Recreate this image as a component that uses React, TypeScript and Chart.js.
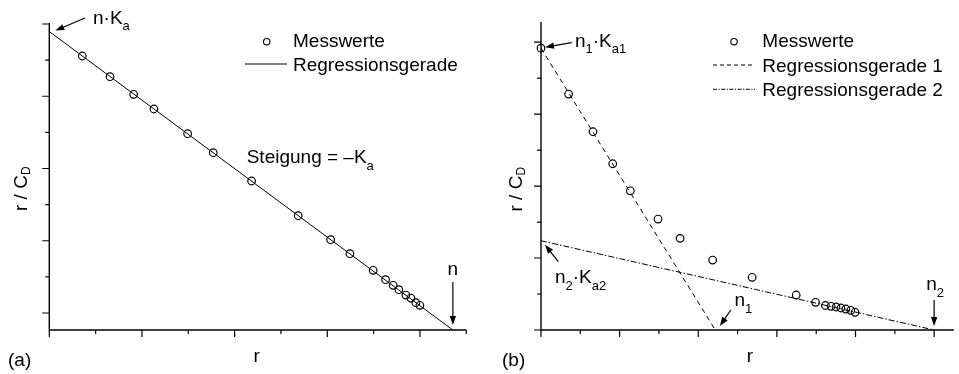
import React, { useEffect, useRef } from "react";
import { Chart, registerables } from "chart.js";
Chart.register(...registerables);

// ---------- Panel (a) data ----------
const rValuesA = [0.356, 0.655, 0.91, 1.129, 1.493, 1.769, 2.183, 2.686, 3.036, 3.244, 3.495, 3.629, 3.711, 3.772, 3.848, 3.902, 3.956, 3.999];
const rcdValuesA = [7.114, 6.541, 6.054, 5.647, 4.963, 4.437, 3.654, 2.693, 2.029, 1.642, 1.182, 0.922, 0.767, 0.645, 0.498, 0.415, 0.285, 0.213];
const regLineAX = [0, 4.355];
const regLineAY = [7.79, -0.47];
const xMajorA = [0, 1, 2, 3, 4];
const xMinorA = [0.5, 1.5, 2.5, 3.5, 4.5];
const yMajorA = [0, 2, 4, 6, 8];
const yMinorA = [1, 3, 5, 7];

// ---------- Panel (b) data ----------
const rValuesB = [0, 0.351, 0.661, 0.912, 1.136, 1.489, 1.769, 2.183, 2.685, 3.246, 3.492, 3.617, 3.689, 3.752, 3.814, 3.877, 3.94, 3.994];
const rcdValuesB = [7.83, 6.556, 5.508, 4.619, 3.867, 3.083, 2.547, 1.944, 1.464, 0.972, 0.769, 0.681, 0.658, 0.639, 0.611, 0.583, 0.547, 0.492];
const reg1BX = [0, 2.217];
const reg1BY = [7.83, 0];
const reg2BX = [0, 5];
const reg2BY = [2.48, 0];
const xMajorB = [0, 1, 2, 3, 4, 5];
const xMinorB = [0.5, 1.5, 2.5, 3.5, 4.5];
const yMajorB = [0, 2, 4, 6, 8];
const yMinorB = [1, 3, 5, 7];

const FONT = '"Liberation Sans", Arial, Helvetica, sans-serif';

const pts = (xs: number[], ys: number[]) => xs.map((x, i) => ({ x, y: ys[i] }));

type Part = [string, boolean];
function drawRich(ctx: CanvasRenderingContext2D, x: number, y: number, parts: Part[], size = 19, subSize = 13, subOff = 6.5) {
  let cx = x;
  ctx.textBaseline = "alphabetic";
  ctx.textAlign = "left";
  for (const [t, sub] of parts) {
    ctx.font = `${sub ? subSize : size}px ${FONT}`;
    ctx.fillText(t, cx, sub ? y + subOff : y);
    cx += ctx.measureText(t).width;
  }
  return cx - x;
}

function richWidth(ctx: CanvasRenderingContext2D, parts: Part[], size = 19, subSize = 13) {
  let w = 0;
  for (const [t, sub] of parts) {
    ctx.font = `${sub ? subSize : size}px ${FONT}`;
    w += ctx.measureText(t).width;
  }
  return w;
}

function arrow(ctx: CanvasRenderingContext2D, x1: number, y1: number, x2: number, y2: number) {
  const ang = Math.atan2(y2 - y1, x2 - x1);
  const L = 9, W = 3.2;
  ctx.beginPath();
  ctx.lineWidth = 1.2;
  ctx.moveTo(x1, y1);
  ctx.lineTo(x2 - Math.cos(ang) * (L - 1), y2 - Math.sin(ang) * (L - 1));
  ctx.stroke();
  ctx.beginPath();
  ctx.moveTo(x2, y2);
  ctx.lineTo(x2 - Math.cos(ang) * L - Math.sin(ang) * W, y2 - Math.sin(ang) * L + Math.cos(ang) * W);
  ctx.lineTo(x2 - Math.cos(ang) * L + Math.sin(ang) * W, y2 - Math.sin(ang) * L - Math.cos(ang) * W);
  ctx.closePath();
  ctx.fill();
}

function drawAxes(chart: any, xMajor: number[], xMinor: number[], yMajor: number[], yMinor: number[]) {
  const ctx: CanvasRenderingContext2D = chart.ctx;
  const { left, right, top, bottom } = chart.chartArea;
  const xs = chart.scales.x, ys = chart.scales.y;
  ctx.save();
  ctx.strokeStyle = "#000";
  ctx.fillStyle = "#000";
  ctx.lineWidth = 1.4;
  ctx.beginPath();
  ctx.moveTo(left, top - 1);
  ctx.lineTo(left, bottom);
  ctx.lineTo(right, bottom);
  ctx.stroke();
  ctx.lineWidth = 1.2;
  ctx.beginPath();
  for (const v of xMajor) { const p = xs.getPixelForValue(v); ctx.moveTo(p, bottom); ctx.lineTo(p, bottom + 7); }
  for (const v of xMinor) { const p = xs.getPixelForValue(v); ctx.moveTo(p, bottom); ctx.lineTo(p, bottom + 4); }
  for (const v of yMajor) { const p = ys.getPixelForValue(v); ctx.moveTo(left, p); ctx.lineTo(left - 7, p); }
  for (const v of yMinor) { const p = ys.getPixelForValue(v); ctx.moveTo(left, p); ctx.lineTo(left - 4, p); }
  ctx.stroke();
  ctx.restore();
}

function yTitle(ctx: CanvasRenderingContext2D, bx: number, by: number) {
  ctx.save();
  ctx.translate(bx, by);
  ctx.rotate(-Math.PI / 2);
  drawRich(ctx, 0, 0, [["r / C", false], ["D", true]], 19, 12, 3);
  ctx.restore();
}

const plugA = {
  id: "panelA",
  afterDraw(chart: any) {
    const ctx: CanvasRenderingContext2D = chart.ctx;
    drawAxes(chart, xMajorA, xMinorA, yMajorA, yMinorA);
    const xs = chart.scales.x, ys = chart.scales.y;
    const { bottom } = chart.chartArea;
    ctx.save();
    ctx.fillStyle = "#000";
    ctx.strokeStyle = "#000";
    // legend
    ctx.lineWidth = 1.1;
    ctx.beginPath(); ctx.arc(266.7, 41.7, 3.2, 0, Math.PI * 2); ctx.stroke();
    ctx.beginPath(); ctx.moveTo(245, 64); ctx.lineTo(287, 64); ctx.stroke();
    drawRich(ctx, 293, 46.7, [["Messwerte", false]]);
    drawRich(ctx, 293, 70.7, [["Regressionsgerade", false]]);
    // annotations
    drawRich(ctx, 93, 23.5, [["n·K", false], ["a", true]]);
    const y0 = ys.getPixelForValue(regLineAY[0]);
    arrow(ctx, 85, 18, xs.getPixelForValue(0) + 6, y0 - 1);
    drawRich(ctx, 246.7, 163.3, [["Steigung = –K", false], ["a", true]]);
    const nx = xs.getPixelForValue(regLineAX[1]);
    ctx.font = `19px ${FONT}`;
    const nw = ctx.measureText("n").width;
    drawRich(ctx, nx - nw / 2, 275, [["n", false]]);
    arrow(ctx, nx, 282, nx, bottom - 5);
    // axis labels
    drawRich(ctx, 8, 366, [["(a)", false]]);
    ctx.font = `19px ${FONT}`;
    const rw = ctx.measureText("r").width;
    drawRich(ctx, 256.7 - rw / 2, 361.7, [["r", false]]);
    yTitle(ctx, 27.3, 211);
    ctx.restore();
  },
};

const OFF = 480;
const plugB = {
  id: "panelB",
  afterDraw(chart: any) {
    const ctx: CanvasRenderingContext2D = chart.ctx;
    drawAxes(chart, xMajorB, xMinorB, yMajorB, yMinorB);
    const xs = chart.scales.x, ys = chart.scales.y;
    const { bottom } = chart.chartArea;
    ctx.save();
    ctx.fillStyle = "#000";
    ctx.strokeStyle = "#000";
    // legend
    ctx.lineWidth = 1.1;
    ctx.beginPath(); ctx.arc(734 - OFF, 41.7, 3.2, 0, Math.PI * 2); ctx.stroke();
    ctx.setLineDash([4, 3]);
    ctx.beginPath(); ctx.moveTo(713 - OFF, 65); ctx.lineTo(755 - OFF, 65); ctx.stroke();
    ctx.setLineDash([4, 1.5, 1.2, 1.5]);
    ctx.beginPath(); ctx.moveTo(713 - OFF, 89.3); ctx.lineTo(755 - OFF, 89.3); ctx.stroke();
    ctx.setLineDash([]);
    drawRich(ctx, 762.3 - OFF, 47, [["Messwerte", false]]);
    drawRich(ctx, 762.3 - OFF, 71.5, [["Regressionsgerade 1", false]]);
    drawRich(ctx, 762.3 - OFF, 96, [["Regressionsgerade 2", false]]);
    // annotations
    drawRich(ctx, 575 - OFF, 46.7, [["n", false], ["1", true], ["·K", false], ["a1", true]]);
    arrow(ctx, 571.7 - OFF, 42.7, xs.getPixelForValue(0) + 4, ys.getPixelForValue(reg1BY[0]) - 1);
    drawRich(ctx, 555 - OFF, 283, [["n", false], ["2", true], ["·K", false], ["a2", true]]);
    arrow(ctx, 558.3 - OFF, 261.7, xs.getPixelForValue(0) + 4, ys.getPixelForValue(reg2BY[0]) + 4);
    const n1x = xs.getPixelForValue(reg1BX[1]);
    drawRich(ctx, 734.5 - OFF, 306, [["n", false], ["1", true]]);
    arrow(ctx, n1x + 15.5, 310, n1x + 4.5, bottom - 4);
    const n2x = xs.getPixelForValue(reg2BX[1]);
    const w2 = richWidth(ctx, [["n", false], ["2", true]]);
    drawRich(ctx, n2x - w2 / 2 + 1, 290, [["n", false], ["2", true]]);
    arrow(ctx, n2x, 300, n2x, bottom - 4);
    // axis labels
    drawRich(ctx, 502 - OFF, 366, [["(b)", false]]);
    ctx.font = `19px ${FONT}`;
    const rw = ctx.measureText("r").width;
    drawRich(ctx, 750 - OFF - rw / 2, 361.7, [["r", false]]);
    yTitle(ctx, 522 - OFF, 211.5);
    ctx.restore();
  },
};

function baseOptions(pad: any, xmin: number, xmax: number, ymin: number, ymax: number): any {
  return {
    animation: false,
    responsive: false,
    events: [],
    layout: { padding: pad },
    scales: {
      x: { type: "linear", min: xmin, max: xmax, display: false },
      y: { type: "linear", min: ymin, max: ymax, display: false },
    },
    plugins: { legend: { display: false }, tooltip: { enabled: false } },
  };
}

const pointDs = (data: any) => ({
  type: "scatter",
  data,
  pointRadius: 3.8,
  pointStyle: "circle",
  borderColor: "#000",
  borderWidth: 1.2,
  backgroundColor: "rgba(0,0,0,0)",
  clip: false,
});

const lineDs = (data: any, dash: number[]) => ({
  type: "line",
  data,
  borderColor: "#000",
  borderWidth: 1,
  borderDash: dash,
  pointRadius: 0,
  fill: false,
  tension: 0,
  clip: false,
});

export default function App() {
  const refA = useRef<HTMLCanvasElement>(null);
  const refB = useRef<HTMLCanvasElement>(null);
  useEffect(() => {
    const a = new Chart(refA.current as HTMLCanvasElement, {
      type: "scatter",
      data: {
        datasets: [
          lineDs(pts(regLineAX, regLineAY), []),
          pointDs(pts(rValuesA, rcdValuesA)),
        ] as any,
      },
      options: baseOptions({ left: 49.3, right: 480 - 466.3, top: 24, bottom: 44 }, 0, 4.5, -0.47, 8),
      plugins: [plugA],
    } as any);
    const b = new Chart(refB.current as HTMLCanvasElement, {
      type: "scatter",
      data: {
        datasets: [
          lineDs(pts(reg1BX, reg1BY), [5, 4]),
          lineDs(pts(reg2BX, reg2BY), [6, 2, 1.5, 2]),
          pointDs(pts(rValuesB, rcdValuesB)),
        ] as any,
      },
      options: baseOptions({ left: 61, right: 0, top: 23, bottom: 44 }, 0, 5.25, 0, 8.53),
      plugins: [plugB],
    } as any);
    return () => {
      a.destroy();
      b.destroy();
    };
  }, []);
  return (
    <div style={{ position: "absolute", left: 0, top: 0, width: 959, height: 374, background: "#fff", overflow: "hidden" }}>
      <canvas ref={refA} width={480} height={374} style={{ position: "absolute", left: 0, top: 0, width: 480, height: 374 }} />
      <canvas ref={refB} width={479} height={374} style={{ position: "absolute", left: 480, top: 0, width: 479, height: 374 }} />
    </div>
  );
}
